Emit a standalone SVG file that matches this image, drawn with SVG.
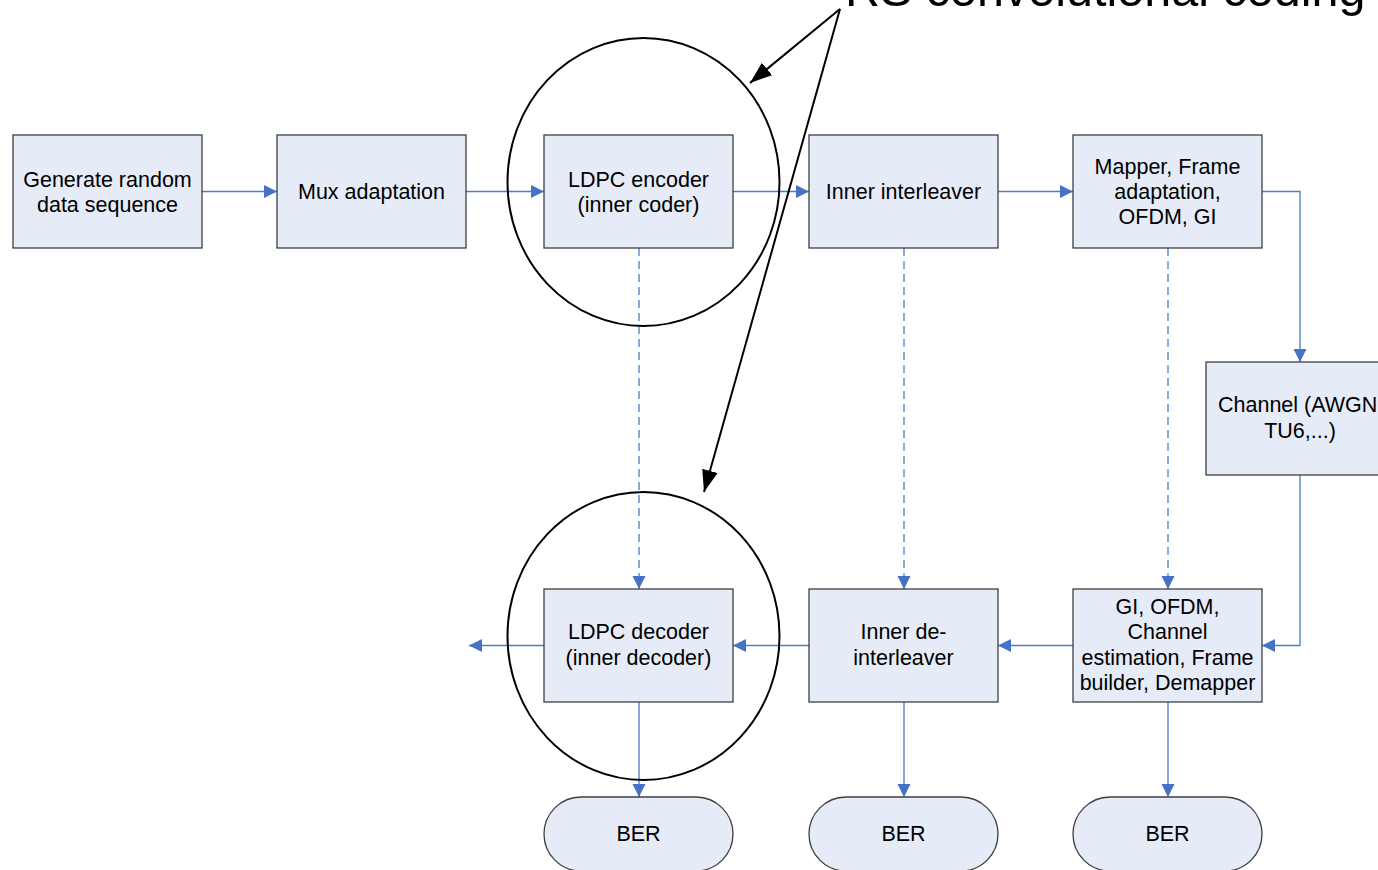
<svg xmlns="http://www.w3.org/2000/svg" width="1378" height="870" viewBox="0 0 1378 870">
<style>
.box{fill:#E6ECF7;stroke:#3F3F3F;stroke-width:1.3}
.t{font-family:"Liberation Sans",Arial,sans-serif;font-size:21.5px;fill:#000;text-anchor:middle}
.c{fill:none;stroke:#4A7BC4;stroke-width:1.3}
.d{fill:none;stroke:#4A7BC4;stroke-width:1.3;stroke-dasharray:8 5}
.k{fill:none;stroke:#000;stroke-width:2}
</style>
<defs>
<marker id="ab" markerWidth="14" markerHeight="14" refX="13" refY="6.5" orient="auto" markerUnits="userSpaceOnUse">
<path d="M0,0 L13,6.5 L0,13 Z" fill="#4472C4"/>
</marker>
<marker id="ak" markerWidth="24" markerHeight="20" refX="22" refY="8" orient="auto" markerUnits="userSpaceOnUse">
<path d="M0,0 L22,8 L0,16 Z" fill="#000"/>
</marker>
</defs>
<rect width="1378" height="870" fill="#fff"/>

<g id="connectors">
<line class="c" x1="202" y1="191.5" x2="277" y2="191.5" marker-end="url(#ab)"/>
<line class="c" x1="466" y1="191.5" x2="544" y2="191.5" marker-end="url(#ab)"/>
<line class="c" x1="733" y1="191.5" x2="809" y2="191.5" marker-end="url(#ab)"/>
<line class="c" x1="998" y1="191.5" x2="1073" y2="191.5" marker-end="url(#ab)"/>
<polyline class="c" points="1262,191.5 1300,191.5 1300,362" marker-end="url(#ab)"/>
<polyline class="c" points="1300,475 1300,645.5 1262,645.5" marker-end="url(#ab)"/>
<line class="c" x1="1073" y1="645.5" x2="998" y2="645.5" marker-end="url(#ab)"/>
<line class="c" x1="809" y1="645.5" x2="733" y2="645.5" marker-end="url(#ab)"/>
<line class="c" x1="544" y1="645.5" x2="469" y2="645.5" marker-end="url(#ab)"/>
<line class="d" x1="639" y1="248" x2="639" y2="589" marker-end="url(#ab)"/>
<line class="d" x1="904" y1="248" x2="904" y2="589" marker-end="url(#ab)"/>
<line class="d" x1="1168" y1="248" x2="1168" y2="589" marker-end="url(#ab)"/>
<line class="c" x1="639" y1="702" x2="639" y2="797" marker-end="url(#ab)"/>
<line class="c" x1="904" y1="702" x2="904" y2="797" marker-end="url(#ab)"/>
<line class="c" x1="1168" y1="702" x2="1168" y2="797" marker-end="url(#ab)"/>
</g>

<g id="gen">
<rect class="box" x="13" y="135" width="189" height="113"/>
<text class="t" x="107.5" y="186.5">Generate random</text>
<text class="t" x="107.5" y="211.5">data sequence</text>
</g>
<g id="mux">
<rect class="box" x="277" y="135" width="189" height="113"/>
<text class="t" x="371.5" y="198.5">Mux adaptation</text>
</g>
<g id="ldpcenc">
<rect class="box" x="544" y="135" width="189" height="113"/>
<text class="t" x="638.5" y="186.5">LDPC encoder</text>
<text class="t" x="638.5" y="211.5">(inner coder)</text>
</g>
<g id="intl">
<rect class="box" x="809" y="135" width="189" height="113"/>
<text class="t" x="903.5" y="198.5">Inner interleaver</text>
</g>
<g id="mapper">
<rect class="box" x="1073" y="135" width="189" height="113"/>
<text class="t" x="1167.5" y="173.5">Mapper, Frame</text>
<text class="t" x="1167.5" y="198.5">adaptation,</text>
<text class="t" x="1167.5" y="223.5">OFDM, GI</text>
</g>
<g id="channel">
<rect class="box" x="1206" y="362" width="189" height="113"/>
<text class="t" x="1218" y="412" style="text-anchor:start">Channel (AWGN</text>
<text class="t" x="1300" y="438">TU6,...)</text>
</g>
<g id="gi">
<rect class="box" x="1073" y="589" width="189" height="113"/>
<text class="t" x="1167.5" y="613.5">GI, OFDM,</text>
<text class="t" x="1167.5" y="639">Channel</text>
<text class="t" x="1167.5" y="664.5">estimation, Frame</text>
<text class="t" x="1167.5" y="690">builder, Demapper</text>
</g>
<g id="deintl">
<rect class="box" x="809" y="589" width="189" height="113"/>
<text class="t" x="903.5" y="639">Inner de-</text>
<text class="t" x="903.5" y="664.5">interleaver</text>
</g>
<g id="ldpcdec">
<rect class="box" x="544" y="589" width="189" height="113"/>
<text class="t" x="638.5" y="639">LDPC decoder</text>
<text class="t" x="638.5" y="664.5">(inner decoder)</text>
</g>
<g id="ber1">
<rect class="box" x="544" y="797" width="189" height="74" rx="37" ry="37"/>
<text class="t" x="638.5" y="840.5">BER</text>
</g>
<g id="ber2">
<rect class="box" x="809" y="797" width="189" height="74" rx="37" ry="37"/>
<text class="t" x="903.5" y="840.5">BER</text>
</g>
<g id="ber3">
<rect class="box" x="1073" y="797" width="189" height="74" rx="37" ry="37"/>
<text class="t" x="1167.5" y="840.5">BER</text>
</g>

<g id="annotation">
<ellipse class="k" cx="643.5" cy="182" rx="136" ry="144"/>
<ellipse class="k" cx="643.5" cy="636" rx="136" ry="144"/>
<line class="k" x1="840" y1="9" x2="750" y2="83" marker-end="url(#ak)"/>
<line class="k" x1="840" y1="9" x2="704" y2="492" marker-end="url(#ak)"/>
<text x="845" y="5.5" style="font-family:'Liberation Sans',Arial,sans-serif;font-size:48.5px;fill:#000">RS convolutional coding</text>
</g>
</svg>
